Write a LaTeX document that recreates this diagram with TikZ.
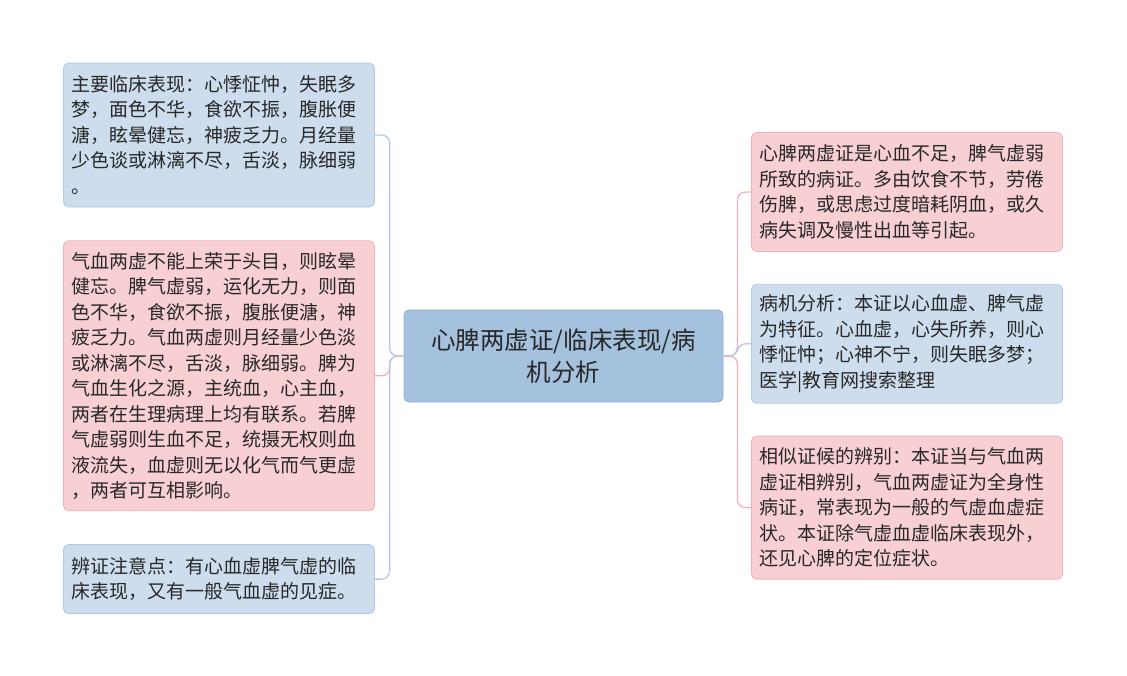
\documentclass[tikz,border=0pt]{standalone}
\usepackage{fontspec}
\newfontfamily\cjk{Noto Sans CJK SC}
\usepackage{xcolor}
\usetikzlibrary{positioning}
\definecolor{bluefill}{RGB}{205,221,237}
\definecolor{blueline}{RGB}{180,201,226}
\definecolor{pinkfill}{RGB}{248,208,212}
\definecolor{pinkline}{RGB}{240,178,186}
\definecolor{rootfill}{RGB}{164,193,221}
\definecolor{rootline}{RGB}{140,172,207}
\definecolor{textcol}{RGB}{40,40,40}
\tikzstyle{leaf} = [rectangle, rounded corners=5pt, line width=0.8pt, text width=295pt, inner sep=8pt, align=left, text=textcol, font=\cjk\fontsize{19}{25.5}\selectfont, minimum width=311pt]
\tikzstyle{bluebox} = [leaf, draw=blueline, fill=bluefill]
\tikzstyle{pinkbox} = [leaf, draw=pinkline, fill=pinkfill]
\tikzstyle{rootbox} = [rectangle, rounded corners=5pt, line width=0.8pt, draw=rootline, fill=rootfill, text=textcol, align=center, minimum width=319pt, minimum height=92pt, font=\cjk\fontsize{24.5}{32}\selectfont]
\tikzstyle{bluelink} = [draw=blueline, line width=1.3pt, rounded corners=8pt]
\tikzstyle{pinklink} = [draw=pinkline, line width=1.3pt, rounded corners=8pt]

\begin{document}
\begin{tikzpicture}[x=1pt, y=-1pt]
          \useasboundingbox (0,0) rectangle (1127,675);
          \node (root) [rootbox] at (563.5,356) {心脾两虚证/临床表现/病\\机分析};

          \node (sign) [bluebox, minimum height=144pt] at (219,135) {主要临床表现：心悸怔忡，失眠多\\梦，面色不华，食欲不振，腹胀便\\溏，眩晕健忘，神疲乏力。月经量\\少色谈或淋漓不尽，舌淡，脉细弱\\。};
          \node (cause) [pinkbox, minimum height=270pt, below=33pt of sign] {气血两虚不能上荣于头目，则眩晕\\健忘。脾气虚弱，运化无力，则面\\色不华，食欲不振，腹胀便溏，神\\疲乏力。气血两虚则月经量少色淡\\或淋漓不尽，舌淡，脉细弱。脾为\\气血生化之源，主统血，心主血，\\两者在生理病理上均有联系。若脾\\气虚弱则生血不足，统摄无权则血\\液流失，血虚则无以化气而气更虚\\，两者可互相影响。};
          \node (note) [bluebox, minimum height=69pt, below=33pt of cause] {辨证注意点：有心血虚脾气虚的临\\床表现，又有一般气血虚的见症。};

          \node (define) [pinkbox, minimum height=119pt] at (907,192) {心脾两虚证是心血不足，脾气虚弱\\所致的病证。多由饮食不节，劳倦\\伤脾，或思虑过度暗耗阴血，或久\\病失调及慢性出血等引起。};
          \node (analyse) [bluebox, minimum height=119pt, below=32pt of define] {病机分析：本证以心血虚、脾气虚\\为特征。心血虚，心失所养，则心\\悸怔忡；心神不宁，则失眠多梦；\\医学|教育网搜索整理};
          \node (differ) [pinkbox, minimum height=143pt, below=32pt of analyse] {相似证候的辨别：本证当与气血两\\虚证相辨别，气血两虚证为全身性\\病证，常表现为一般的气虚血虚症\\状。本证除气虚血虚临床表现外，\\还见心脾的定位症状。};

          \draw [bluelink] (root.west) -- ++(-14,0) |- (sign.east);
          \draw [pinklink] (root.west) -- ++(-14,0) |- (cause.east);
          \draw [bluelink] (root.west) -- ++(-14,0) |- (note.east);
          \draw [pinklink] (root.east) -- ++(14,0) |- (define.west);
          \draw [bluelink] (root.east) -- ++(14,0) |- (analyse.west);
          \draw [pinklink] (root.east) -- ++(14,0) |- (differ.west);
        \end{tikzpicture}
\end{document}
